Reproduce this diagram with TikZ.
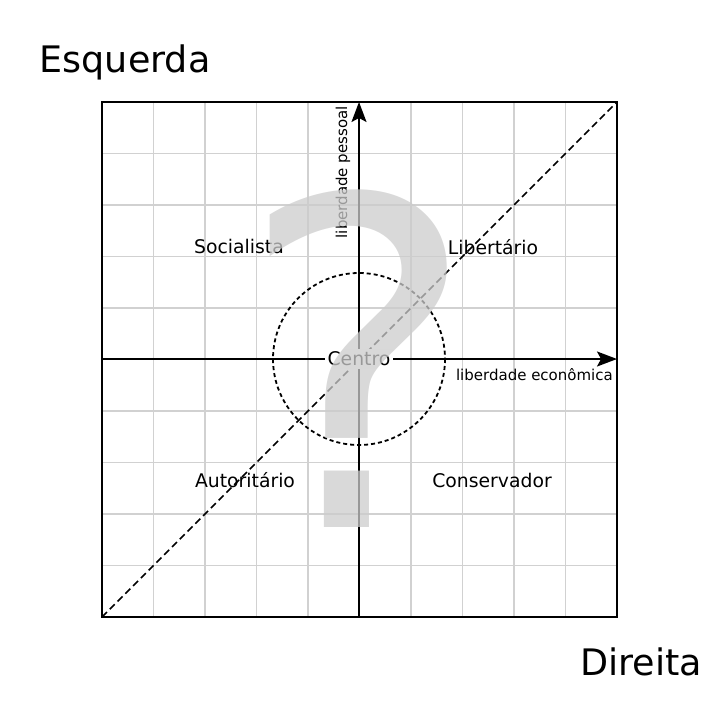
\documentclass[tikz,border=0pt]{standalone}
\usepackage{fontspec}
\setmainfont{DejaVu Sans}
\usetikzlibrary{arrows.meta}
\tikzset{
  gridline/.style={draw=black!18, line width=1.4pt},
  axisline/.style={draw=black, line width=1.8pt, -{Stealth[length=20pt,width=15pt,inset=4pt]}},
  quadlabel/.style={anchor=base, font=\fontsize{18.8}{22}\selectfont, inner sep=0pt},
  axislabel/.style={font=\fontsize{15}{18}\selectfont, inner sep=0pt},
  sidelabel/.style={anchor=base, font=\fontsize{36.5}{42}\selectfont, inner sep=0pt},
}
\begin{document}
\begin{tikzpicture}[x=1pt,y=-1pt]
\useasboundingbox (0,0) rectangle (720,720);
% grid
\foreach \i in {1,...,9}{
  \draw[gridline] ({102+51.5*\i},102) -- ({102+51.5*\i},617);
  \draw[gridline] (102,{102+51.5*\i}) -- (617,{102+51.5*\i});
}
\draw[black, line width=2.4pt] (102,102) rectangle (617,617);
% coordinates
\coordinate (bl) at (102,617);
\coordinate (tr) at (617,102);
\coordinate (c) at (359,359);
\coordinate (xl) at (102,359);
\coordinate (xr) at (617,359);
\coordinate (yb) at (359,617);
\coordinate (yt) at (359,102);
% diagonal
\draw[black, line width=1.6pt, dash pattern=on 7pt off 4pt] (bl) -- (tr);
% circle
\draw[black, line width=1.8pt, dash pattern=on 4pt off 3pt] (c) circle (86);
% axes
\draw[axisline] (xl) -- (xr);
\draw[axisline] (yb) -- (yt);
% center label
\node[fill=white, inner sep=3pt, font=\fontsize{18.8}{22}\selectfont] (centro) at (c) {Centro};
% quadrant labels
\node[quadlabel] (soc) at (239,253) {Socialista};
\node[quadlabel] (lib) at (493,254) {Libertário};
\node[quadlabel] (aut) at (245,487) {Autoritário};
\node[quadlabel] (con) at (492,487) {Conservador};
% axis labels
\node[axislabel, anchor=base east] (econ) at (613,380) {liberdade econômica};
\node[axislabel, anchor=base east, rotate=90] (pess) at (347,106) {liberdade pessoal};
% side labels
\node[sidelabel] (esq) at (125,72) {Esquerda};
\node[sidelabel] (dir) at (641,675) {Direita};
% question mark
\node[anchor=base, inner sep=0pt, text=black!20, opacity=0.75,
      font=\fontsize{455}{455}\selectfont] (q) at (358,527) {?};
\end{tikzpicture}
\end{document}
